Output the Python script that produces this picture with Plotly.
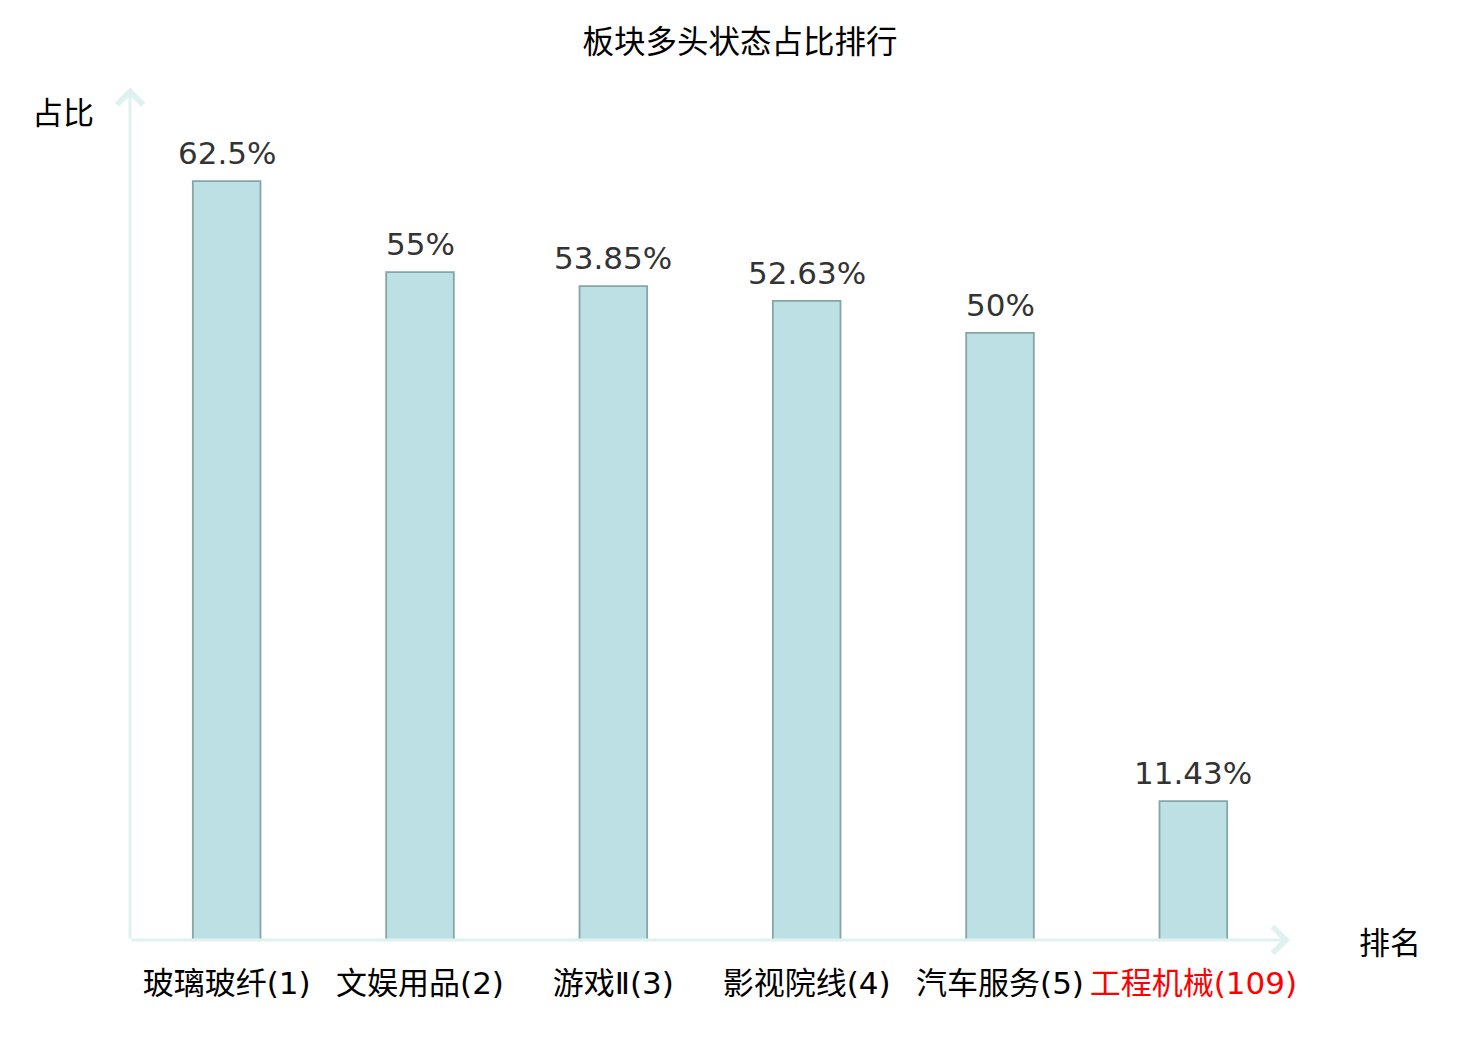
import plotly.graph_objects as go

# sector names with their rank, and share of bullish state (%)
sectors = ["玻璃玻纤", "文娱用品", "游戏Ⅱ", "影视院线", "汽车服务", "工程机械"]
ranks = [1, 2, 3, 4, 5, 109]
shares = [62.5, 55, 53.85, 52.63, 50, 11.43]
share_labels = ["62.5%", "55%", "53.85%", "52.63%", "50%", "11.43%"]

ticks = []
for name, r in zip(sectors, ranks):
    t = f"{name}({r})"
    if r > 5:
        t = f'<span style="color:#ff0000">{t}</span>'
    ticks.append(t)

AXIS_COLOR = "#dff2ef"
CJK = "Noto Sans CJK SC, DejaVu Sans, sans-serif"
TICKFONT = "DejaVu Sans, Noto Sans CJK SC, sans-serif"
# the page body has an 8px default margin, so pull everything back by that
OFF = 8

xs = list(range(len(sectors)))

fig = go.Figure()
fig.add_trace(
    go.Bar(
        x=xs,
        y=shares,
        width=0.35,
        marker=dict(color="#bce0e3", line=dict(color="#86a5a5", width=1.8)),
        hoverinfo="skip",
    )
)

# value labels above bars
for x, v, lab in zip(xs, shares, share_labels):
    fig.add_annotation(
        x=x, y=v, text=lab, showarrow=False, yanchor="bottom", yshift=8,
        font=dict(family="DejaVu Sans", size=31, color="#333333"),
    )

# axis lines with open arrowheads
dom = dict(xref="x domain", yref="y domain", axref="x domain", ayref="y domain")
fig.add_annotation(
    x=0, y=1.003, ax=0, ay=0, **dom,
    showarrow=True, arrowhead=4, arrowsize=1.7, arrowwidth=3, arrowcolor=AXIS_COLOR, text="",
)
fig.add_annotation(
    x=1.0, y=0, ax=0, ay=0, **dom,
    showarrow=True, arrowhead=4, arrowsize=1.7, arrowwidth=3, arrowcolor=AXIS_COLOR, text="",
)

# axis names
fig.add_annotation(
    x=-0.058, y=0.976, xref="paper", yref="paper", text="占比", showarrow=False,
    xanchor="center", yanchor="middle", font=dict(family=CJK, size=31, color="#000000"),
)
fig.add_annotation(
    x=1.0865, y=0.0, xref="paper", yref="paper", text="排名", showarrow=False,
    xanchor="center", yanchor="middle", font=dict(family=CJK, size=31, color="#000000"),
)

fig.update_layout(
    width=1480,
    height=1040,
    title=dict(
        text="板块多头状态占比排行",
        x=(740 - OFF) / 1480, xanchor="center", y=1 - (42 - OFF) / 1040, yanchor="middle",
        font=dict(family=CJK, size=31.5, color="#000000"),
    ),
    margin=dict(l=130 - OFF, r=190 + OFF, t=90 - OFF, b=100 + OFF),
    plot_bgcolor="white",
    paper_bgcolor="white",
    showlegend=False,
    xaxis=dict(
        range=[-0.5, len(sectors) - 0.5],
        tickmode="array",
        tickvals=xs,
        ticktext=ticks,
        tickfont=dict(family=TICKFONT, size=31, color="#000000"),
        showgrid=False,
        zeroline=False,
        showline=False,
        ticks="",
        ticklabelstandoff=22,
    ),
    yaxis=dict(
        range=[0, 70],
        showticklabels=False,
        showgrid=False,
        zeroline=False,
        showline=False,
        ticks="",
    ),
)

fig.write_html("out.html")
